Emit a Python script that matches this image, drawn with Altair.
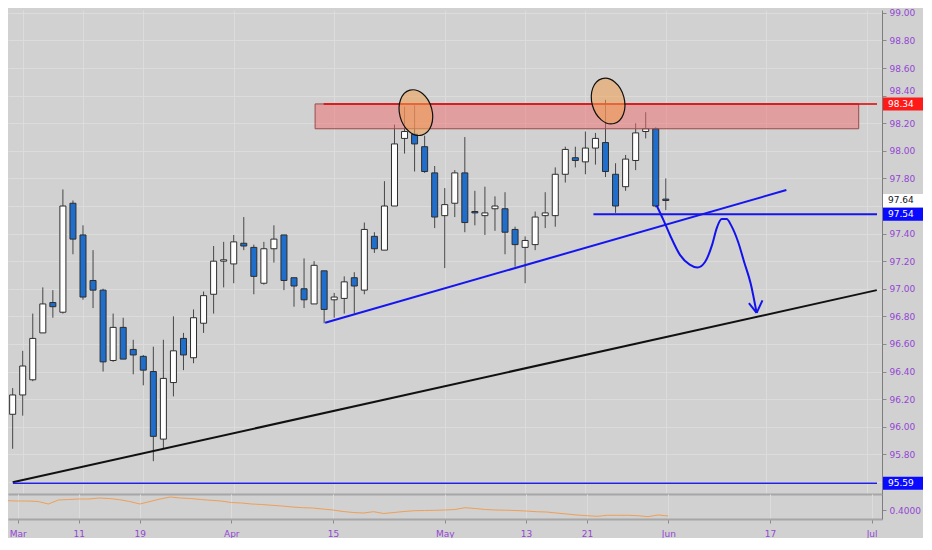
import altair as alt
import pandas as pd

# ---------------- data ----------------
days = list(range(-1, 65))  # trading-day index, 0 = 1 Mar
opens = [96.09, 96.23, 96.34, 96.68, 96.90, 96.83, 97.62, 97.39, 97.06, 96.99,
         96.48, 96.72, 96.56, 96.51, 96.40, 95.91, 96.32, 96.64, 96.50, 96.75,
         96.96, 97.20, 97.18, 97.33, 97.30, 97.04, 97.29, 97.39, 97.08, 97.00,
         96.89, 97.13, 96.92, 96.93, 97.08, 96.99, 97.38, 97.28, 97.60, 98.09,
         98.12, 98.03, 97.84, 97.53, 97.62, 97.84, 97.56, 97.53, 97.58, 97.58,
         97.43, 97.30, 97.32, 97.53, 97.53, 97.83, 97.95, 97.92, 98.02, 98.06,
         97.83, 97.74, 97.93, 98.14, 98.16, 97.65]
highs = [96.28, 96.55, 96.82, 97.01, 96.99, 97.72, 97.64, 97.46, 97.28, 97.00,
         96.82, 96.79, 96.63, 96.52, 96.58, 96.63, 96.80, 96.68, 96.85, 96.98,
         97.31, 97.34, 97.39, 97.52, 97.32, 97.34, 97.46, 97.39, 97.08, 97.22,
         97.20, 97.13, 96.97, 97.09, 97.12, 97.48, 97.41, 97.78, 98.19, 98.32,
         98.33, 98.11, 97.89, 97.73, 97.86, 98.10, 97.71, 97.74, 97.67, 97.70,
         97.45, 97.38, 97.56, 97.70, 97.88, 98.03, 98.03, 98.14, 98.13, 98.37,
         97.91, 97.97, 98.20, 98.28, 98.17, 97.80]
lows = [95.84, 96.08, 96.33, 96.68, 96.79, 96.82, 97.25, 96.92, 96.86, 96.40,
        96.47, 96.49, 96.38, 96.30, 95.75, 95.84, 96.22, 96.41, 96.46, 96.68,
        96.82, 97.01, 97.04, 97.28, 96.96, 97.03, 97.19, 96.99, 96.87, 96.86,
        96.89, 96.75, 96.79, 96.82, 96.82, 96.96, 97.26, 97.28, 97.60, 97.98,
        97.85, 97.84, 97.44, 97.15, 97.52, 97.41, 97.46, 97.39, 97.42, 97.25,
        97.16, 97.04, 97.28, 97.44, 97.45, 97.77, 97.88, 97.83, 97.90, 97.81,
        97.55, 97.71, 97.86, 98.09, 97.59, 97.57]
closes = [96.23, 96.44, 96.64, 96.89, 96.87, 97.60, 97.36, 96.94, 96.99, 96.47,
          96.72, 96.49, 96.52, 96.41, 95.93, 96.35, 96.55, 96.52, 96.79, 96.95,
          97.20, 97.21, 97.34, 97.31, 97.09, 97.29, 97.36, 97.06, 97.02, 96.92,
          97.17, 96.85, 96.94, 97.05, 97.02, 97.43, 97.29, 97.60, 98.05, 98.14,
          98.05, 97.85, 97.52, 97.61, 97.84, 97.48, 97.55, 97.55, 97.60, 97.41,
          97.32, 97.35, 97.52, 97.55, 97.83, 98.01, 97.93, 98.02, 98.09, 97.85,
          97.60, 97.94, 98.13, 98.16, 97.60, 97.64]
osc = [0.4093, 0.4090, 0.4090, 0.4085, 0.4060, 0.4100, 0.4105, 0.4110, 0.4110, 0.4120,
       0.4115, 0.4103, 0.4085, 0.4060, 0.4085, 0.4110, 0.4130, 0.4120, 0.4115, 0.4105,
       0.4097, 0.4090, 0.4075, 0.4070, 0.4060, 0.4055, 0.4047, 0.4040, 0.4030, 0.4023,
       0.4020, 0.4010, 0.4000, 0.3985, 0.3975, 0.3970, 0.3983, 0.3965, 0.3975, 0.3985,
       0.3993, 0.3995, 0.3997, 0.4000, 0.4005, 0.4023, 0.4015, 0.4005, 0.4000, 0.3998,
       0.3995, 0.3990, 0.3983, 0.3980, 0.3970, 0.3960, 0.3950, 0.3943, 0.3937, 0.3947,
       0.3947, 0.3947, 0.3943, 0.3933, 0.3950, 0.3940]

tick_idx = [0, 6, 12, 21, 31, 42, 50, 56, 64, 74, 84]
tick_lab = ["Mar", "11", "19", "Apr", "15", "May", "13", "21", "Jun", "17", "Jul"]
price_ticks = [95.6, 95.8, 96.0, 96.2, 96.4, 96.6, 96.8, 97.0, 97.2, 97.4,
               97.6, 97.8, 98.0, 98.2, 98.4, 98.6, 98.8, 99.0]
hidden_ticks = [95.6, 97.6]   # covered by the price tags in the reference

# drawings
zone_x = [29.1, 83.2]
zone_y = [98.16, 98.34]
res_x = [29.95, 85.02]
res_y = [98.34, 98.34]
sup_x = [56.8, 85.02]
sup_y = [97.54, 97.54]
low_x = [-0.966, 85.02]
low_y = [95.59, 95.59]
black_x = [-1.0, 85.0]
black_y = [95.597, 96.99]
blue_x = [30.1, 76.0]
blue_y = [96.754, 97.716]
arrow_x = [63.09, 63.77, 64.44, 65.41, 66.38, 67.15, 67.92, 68.60, 69.08, 69.57,
           70.05, 70.53, 71.21, 71.79, 72.46, 73.04]
arrow_y = [97.604, 97.498, 97.386, 97.246, 97.175, 97.154, 97.196, 97.316, 97.442, 97.505,
           97.505, 97.456, 97.337, 97.196, 97.035, 96.825]
head_x = [72.27, 73.62]
head_y = [96.895, 96.916]
tip_x = [73.04, 73.04]
tip_y = [96.825, 96.825]
ell_x = [39.13, 58.26]
ell_y = [98.277, 98.361]
lab_price = [98.34, 97.64, 97.54, 95.59]
lab_text = ["98.34", "97.64", "97.54", "95.59"]
lab_fill = ["#ff1a1a", "#ffffff", "#0a0aff", "#0a0aff"]
lab_ink = ["#ffffff", "#131722", "#ffffff", "#ffffff"]

# ---------------- layout / style ----------------
W, H1, H2 = 874, 484, 25
XD = [-0.966, 85.02]
YD = [95.512, 99.021]
BG = "#d1d1d1"
GRID = "#dcdcdc"
PURPLE = "#9446d4"
CANDLE_BLUE = "#1f6ecc"

xs = alt.Scale(domain=XD, nice=False, zero=False)
ys = alt.Scale(domain=YD, nice=False, zero=False)

lab_expr = "".join(f"datum.value == {i} ? '{l}' : " for i, l in zip(tick_idx, tick_lab)) + "''"
hide_test = " || ".join(f"datum.value == {v}" for v in hidden_ticks)
price_expr = f"({hide_test}) ? '' : format(datum.value, '.2f')"

candles = pd.DataFrame({"i": days, "o": opens, "h": highs, "l": lows, "c": closes})

x_axis_top = alt.Axis(values=tick_idx, labels=False, ticks=False, grid=True, gridColor=GRID,
                      gridWidth=1, domain=True, domainColor="#a6a6a6", domainWidth=2, title=None)
y_axis = alt.Axis(orient="right", values=price_ticks, labelExpr=price_expr, grid=True, gridColor=GRID,
                  labelColor=PURPLE, labelFontSize=9, labelPadding=3, tickSize=4, tickColor="#8a8a8a",
                  labelBaseline=alt.condition("datum.value == 98.4", alt.value("bottom"), alt.value("middle")),
                  domainColor="#7d7d7d", title=None)


def X(f):
    return alt.X(f, scale=xs, axis=x_axis_top)


def Y(f):
    return alt.Y(f, scale=ys, axis=y_axis)


wicks = alt.Chart(candles).mark_rule(color="#474747", strokeWidth=1, clip=True).encode(
    x=X("i:Q"), y=Y("l:Q"), y2="h:Q",
)
bodies = alt.Chart(candles).mark_bar(size=6, stroke="#2d2d2d", strokeWidth=1, clip=True).encode(
    x=X("i:Q"), y=Y("o:Q"), y2="c:Q",
    color=alt.condition("datum.c >= datum.o", alt.value("#ffffff"), alt.value(CANDLE_BLUE)),
)


def seg(xv, yv, color, width):
    d = pd.DataFrame({"x": [xv[0]], "x2": [xv[1]], "y": [yv[0]], "y2": [yv[1]]})
    return alt.Chart(d).mark_rule(color=color, strokeWidth=width, clip=True).encode(
        x=X("x:Q"), x2="x2:Q", y=Y("y:Q"), y2="y2:Q",
    )


zone = alt.Chart(pd.DataFrame({"x": [zone_x[0]], "x2": [zone_x[1]], "y": [zone_y[0]], "y2": [zone_y[1]]})).mark_rect(
    fill="#f26b6b", fillOpacity=0.5, stroke="#9b4a4a", strokeWidth=1, clip=True).encode(
    x=X("x:Q"), x2="x2:Q", y=Y("y:Q"), y2="y2:Q",
)

ELLIPSE = "M 0 -1 A 0.7 1 0 1 1 0 1 A 0.7 1 0 1 1 0 -1 Z"
ellipses = alt.Chart(pd.DataFrame({"x": ell_x, "y": ell_y})).mark_point(
    shape=ELLIPSE, size=2160, angle=345, filled=True, fill="#f0a050", fillOpacity=0.55,
    stroke="#111111", strokeWidth=1.2, opacity=1, clip=True).encode(
    x=X("x:Q"), y=Y("y:Q"),
)

arrow = alt.Chart(pd.DataFrame({"x": arrow_x, "y": arrow_y})).mark_line(
    color="#1212ee", strokeWidth=2, interpolate="monotone", clip=True).encode(
    x=X("x:Q"), y=Y("y:Q"),
)
head = alt.Chart(pd.DataFrame({"x": head_x, "y": head_y, "x2": tip_x, "y2": tip_y})).mark_rule(
    color="#1212ee", strokeWidth=2, clip=True).encode(
    x=X("x:Q"), x2="x2:Q", y=Y("y:Q"), y2="y2:Q",
)

BOX = "M -1 -0.325 L 1 -0.325 L 1 0.325 L -1 0.325 Z"
labs = pd.DataFrame({"p": lab_price, "t": lab_text, "f": lab_fill, "k": lab_ink})
boxes = alt.Chart(labs).mark_point(shape=BOX, size=1600, filled=True, opacity=1, strokeWidth=0).encode(
    x=alt.value(W + 21),
    y=Y("p:Q"),
    color=alt.Color("f:N", scale=None),
)
box_text = alt.Chart(labs).mark_text(align="left", baseline="middle", fontSize=9).encode(
    x=alt.value(W + 6),
    y=Y("p:Q"),
    text="t:N",
    color=alt.Color("k:N", scale=None),
)

price = alt.layer(
    wicks, bodies, zone,
    seg(res_x, res_y, "#e00000", 1.5),
    ellipses,
    seg(black_x, black_y, "#111111", 2),
    seg(blue_x, blue_y, "#1515f0", 2),
    seg(sup_x, sup_y, "#1515f0", 2),
    seg(low_x, low_y, "#2020e8", 1.5),
    arrow, head, boxes, box_text,
).properties(width=W, height=H1)

ind = alt.Chart(pd.DataFrame({"i": days, "v": osc})).mark_line(color="#ef9f55", strokeWidth=1, clip=True).encode(
    x=alt.X("i:Q", scale=xs, axis=alt.Axis(values=tick_idx, labelExpr=lab_expr, grid=True, gridColor=GRID,
                                            domainColor="#a6a6a6", domainWidth=2, tickColor="#8a8a8a",
                                            tickSize=4, labelColor=PURPLE, labelFontSize=9,
                                            labelPadding=6, title=None)),
    y=alt.Y("v:Q", scale=alt.Scale(domain=[0.391, 0.416], nice=False, zero=False),
            axis=alt.Axis(orient="right", values=[0.4], format=".4f", grid=False, labelColor=PURPLE,
                          labelFontSize=9, labelPadding=3, tickSize=4, tickColor="#8a8a8a",
                          domainColor="#7d7d7d", title=None)),
).properties(width=W, height=H2)

chart = alt.vconcat(price, ind, spacing=0).properties(
    background=BG, padding=0
).configure(font="DejaVu Sans").configure_view(strokeWidth=0)

chart.save("out.html", embed_options={"renderer": "svg", "actions": False})
